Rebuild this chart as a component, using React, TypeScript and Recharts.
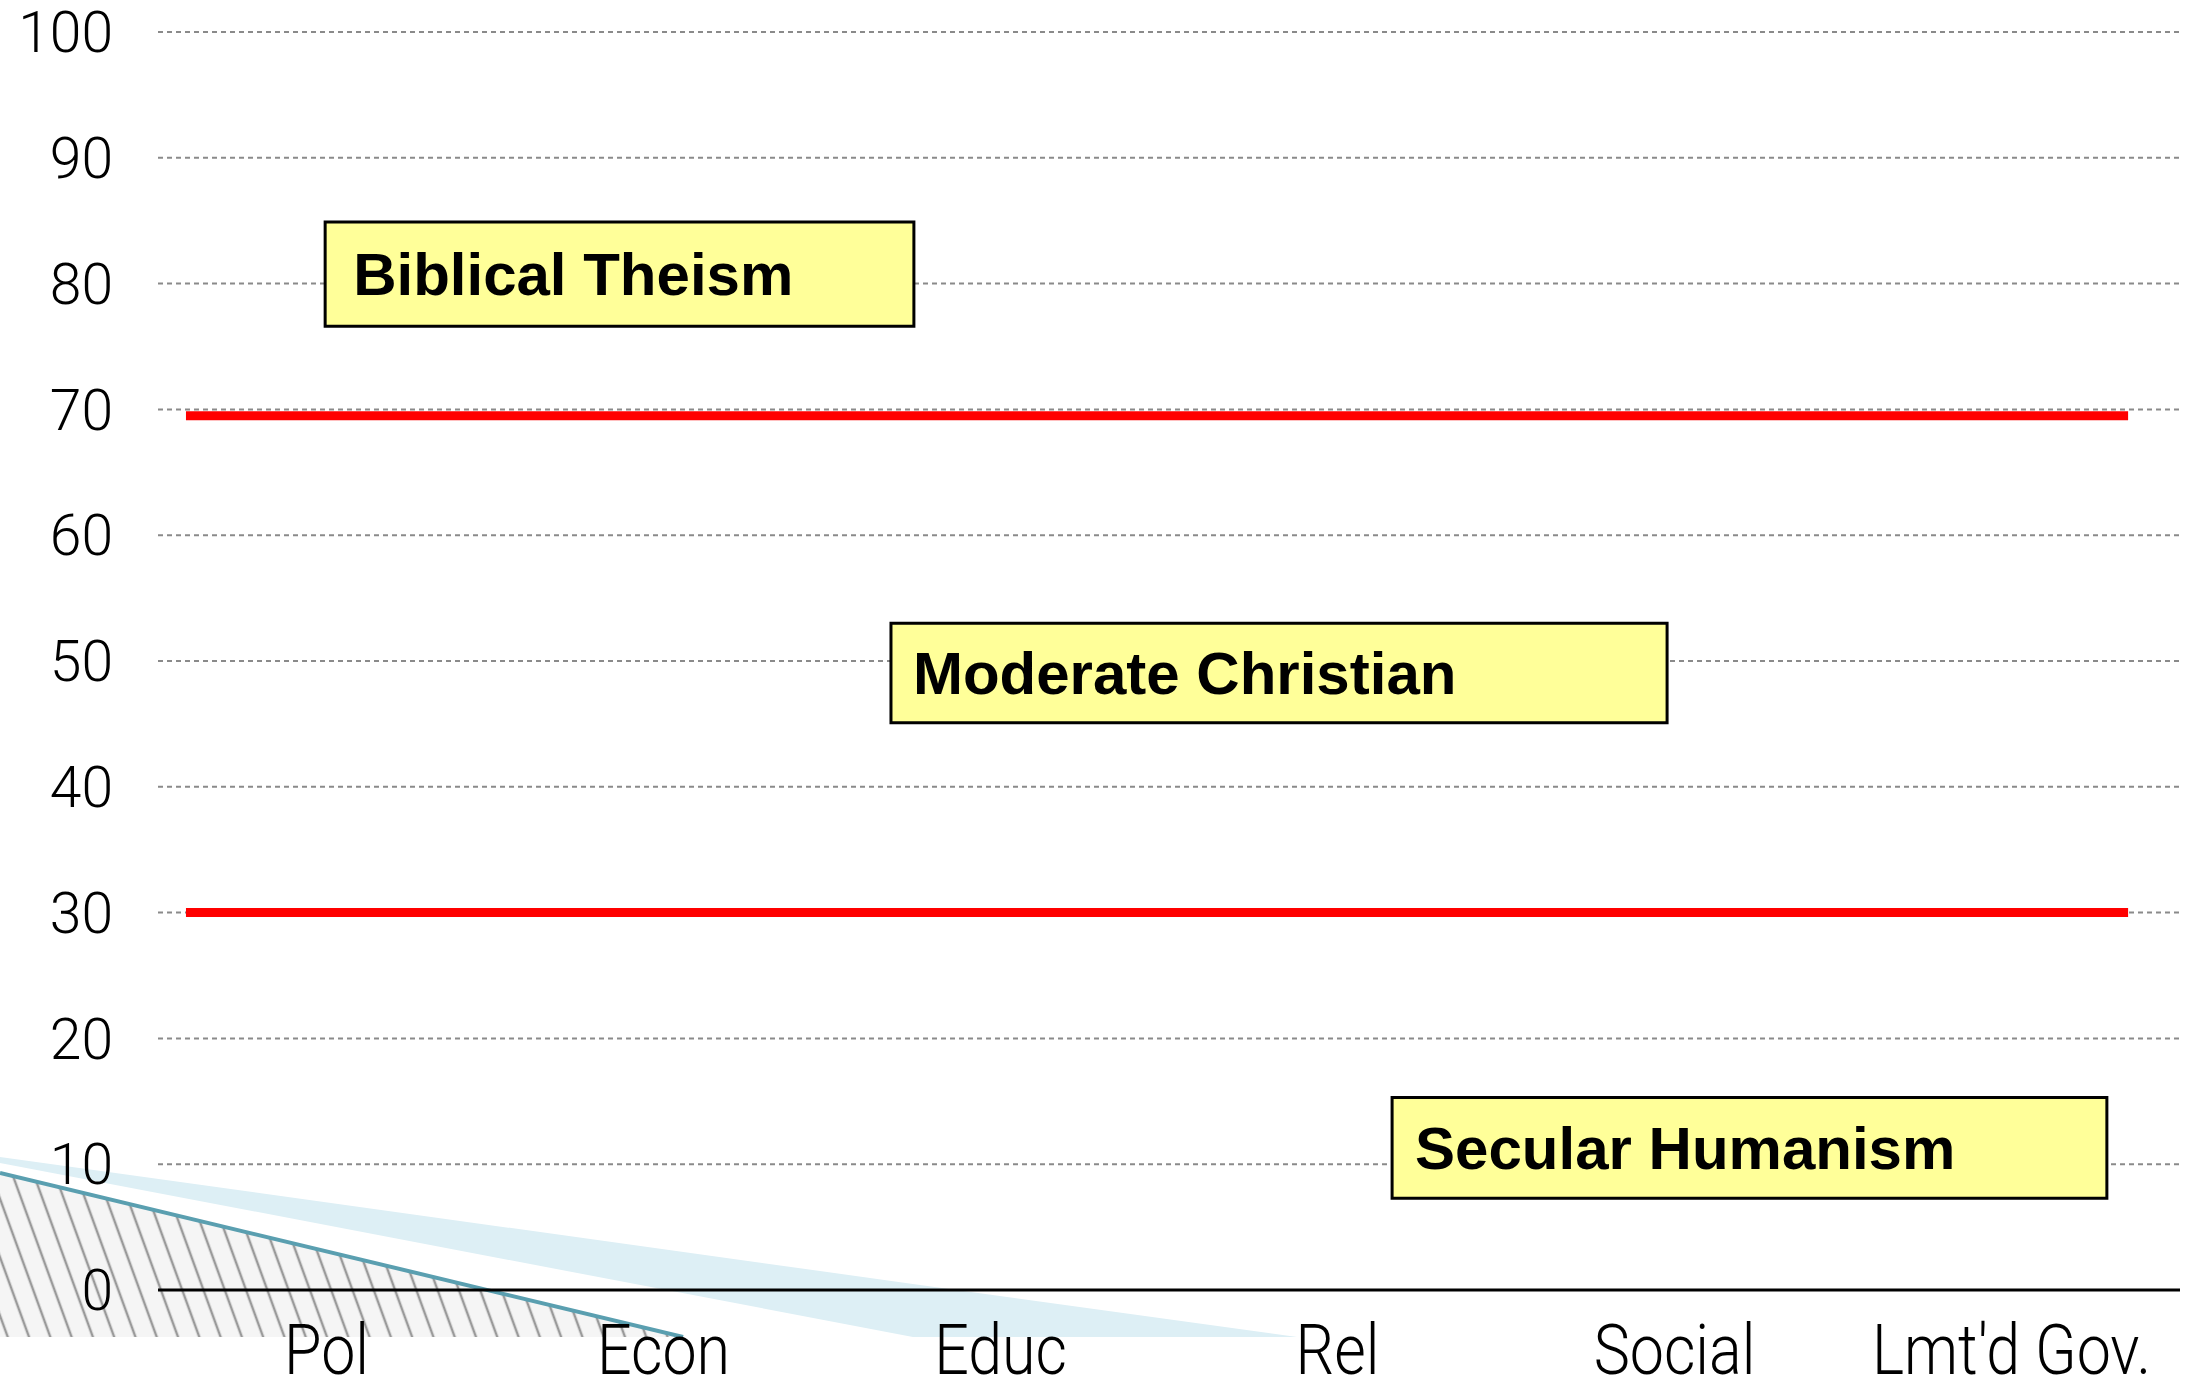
import {
  Area,
  CartesianGrid,
  ComposedChart,
  ReferenceArea,
  Scatter,
  XAxis,
  YAxis,
} from "recharts";

// Category axis and value ticks.
const categories = ["Pol", "Econ", "Educ", "Rel", "Social", "Lmt'd Gov."];
const yTicks = [0, 10, 20, 30, 40, 50, 60, 70, 80, 90, 100];

// Red threshold lines (value) and their extent in category units.
const thresholds = [69.5, 30];
const thresholdSpan = [0.083, 5.846];

// Annotation boxes, in category units (x) and score (y).
const boxLabels = ["Biblical Theism", "Moderate Christian", "Secular Humanism"];
const boxX1 = [0.496, 2.175, 3.662];
const boxX2 = [2.243, 4.478, 5.783];
const boxY1 = [76.6, 45.1, 7.3];
const boxY2 = [84.9, 53.0, 15.3];
const boxPad = [28, 22, 23];

// Leftover shapes in the bottom-left corner.
const floor = -3.74;
const bandX = [-0.469, 2.24, 3.38];
const bandHigh = [10.57, 0.48, -3.74];
const bandLow = [10.1, -3.74, -3.74];
const hatchX = [-0.469, 1.558];
const hatchTop = [9.3, -3.74];

const W = 2194;
const H = 1378;
const SANS = '"Liberation Sans", Arial, Helvetica, sans-serif';
const LIGHT = 'Roboto, "Liberation Sans", Arial, sans-serif';

const layer: React.CSSProperties = { position: "absolute", left: 0, top: 0 };

function Decor({ children, data }: { children: React.ReactNode; data: object[] }) {
  return (
    <div style={layer}>
      <ComposedChart
        width={W}
        height={H}
        data={data}
        margin={{ top: 32, right: 14, bottom: 41, left: 0 }}
      >
        <XAxis dataKey="x" type="number" domain={[-0.469, 6]} hide allowDataOverflow />
        <YAxis domain={[floor, 100]} hide allowDataOverflow />
        {children}
      </ComposedChart>
    </div>
  );
}

// condensed look for the category labels
function CategoryTick(props: any) {
  const { x, y, payload } = props;
  return (
    <g transform={`translate(${x},${y})`}>
      <text
        transform="scale(0.87,1)"
        textAnchor="middle"
        dy="0.71em"
        fontSize={70}
        fontWeight={300}
        fill="#000"
        fontFamily={LIGHT}
      >
        {payload.value}
      </text>
    </g>
  );
}

const Nothing = () => <g />;

export default function App() {
  const rows = categories.map((name) => ({ name }));
  const band = bandX.map((x, i) => ({ x, lo: bandLow[i], hi: bandHigh[i] }));
  const hatch = hatchX.map((x, i) => ({ x, y: hatchTop[i] }));

  return (
    <div style={{ ...layer, width: W, height: H, background: "#fff" }}>
      <Decor data={band}>
        <Area
          type="linear"
          dataKey={(d: { lo: number; hi: number }) => [d.lo, d.hi]}
          stroke="none"
          fill="#DDEFF5"
          fillOpacity={1}
          isAnimationActive={false}
        />
      </Decor>
      <Decor data={hatch}>
        <defs>
          <pattern
            id="hatch"
            patternUnits="userSpaceOnUse"
            width={20}
            height={20}
            patternTransform="rotate(-20)"
          >
            <rect width={20} height={20} fill="#f5f5f5" />
            <line x1={10} y1={0} x2={10} y2={20} stroke="#9a9a9a" strokeWidth={2.5} />
          </pattern>
        </defs>
        <Area
          type="linear"
          dataKey="y"
          baseValue={floor}
          stroke="#5A9FB0"
          strokeWidth={4}
          fill="url(#hatch)"
          fillOpacity={1}
          isAnimationActive={false}
        />
      </Decor>

      <div style={layer}>
        <ComposedChart
          width={W}
          height={H}
          data={rows}
          margin={{ top: 32, right: 14, bottom: 0, left: 0 }}
        >
          <CartesianGrid
            xAxisId="cat"
            vertical={false}
            stroke="#8a8a8a"
            strokeWidth={2}
            strokeDasharray="5 4"
          />
          <XAxis
            xAxisId="cat"
            dataKey="name"
            scale="band"
            height={88}
            interval={0}
            axisLine={{ stroke: "#000", strokeWidth: 3 }}
            tickLine={false}
            tickSize={0}
            tickMargin={34}
            tick={<CategoryTick />}
          />
          <XAxis
            xAxisId="n"
            dataKey="x"
            type="number"
            domain={[0, 6]}
            hide
            allowDataOverflow
          />
          <YAxis
            dataKey="y"
            type="number"
            domain={[0, 100]}
            ticks={yTicks}
            interval={0}
            width={158}
            allowDataOverflow
            axisLine={false}
            tickLine={false}
            tickSize={0}
            tickMargin={45}
            tick={{ fontSize: 57, fontWeight: 300, fill: "#000", fontFamily: LIGHT }}
          />
          {boxLabels.map((label, i) => (
            <ReferenceArea
              key={label}
              xAxisId="n"
              x1={boxX1[i]}
              x2={boxX2[i]}
              y1={boxY1[i]}
              y2={boxY2[i]}
              fill="#FFFF99"
              fillOpacity={1}
              stroke="#000"
              strokeWidth={3}
              label={{
                value: label,
                position: "insideLeft",
                offset: boxPad[i],
                fill: "#000",
                fontSize: 60,
                fontWeight: "bold",
                fontFamily: SANS,
              }}
            />
          ))}
          {thresholds.map((v) => (
            <Scatter
              key={v}
              xAxisId="n"
              data={[
                { x: thresholdSpan[0], y: v },
                { x: thresholdSpan[1], y: v },
              ]}
              line={{ stroke: "#FF0000", strokeWidth: 9 }}
              shape={Nothing}
              isAnimationActive={false}
            />
          ))}
        </ComposedChart>
      </div>
    </div>
  );
}
